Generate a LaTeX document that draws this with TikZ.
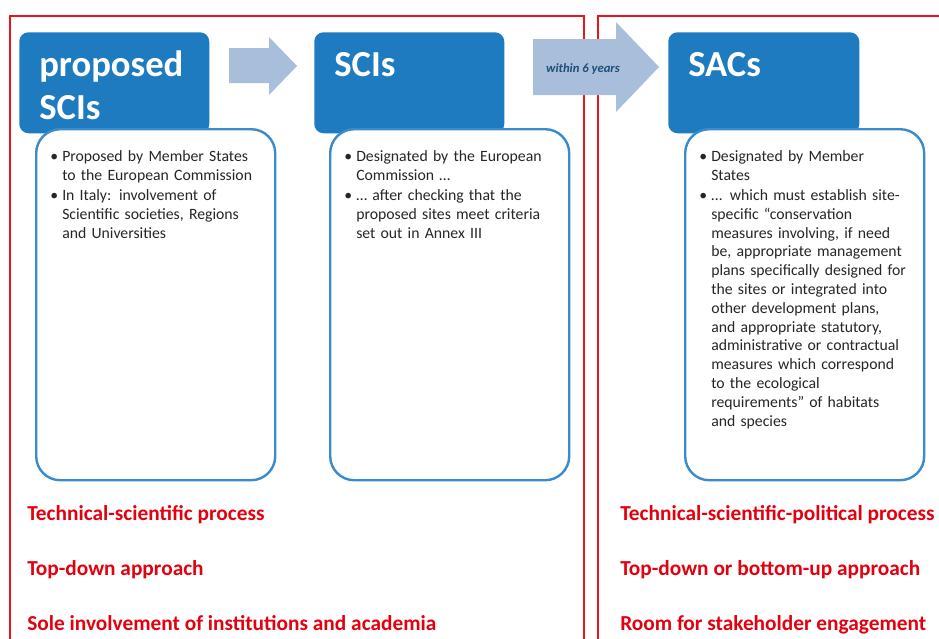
\documentclass[tikz,border=0pt]{standalone}
\usepackage{fontspec}
\setmainfont{Carlito}
\usetikzlibrary{positioning,calc}
\definecolor{headblue}{HTML}{1F7BBF}
\definecolor{boxblue}{HTML}{3A8BCB}
\definecolor{arrowfill}{HTML}{A9BEDB}
\definecolor{framered}{HTML}{E8141B}
\definecolor{redtext}{HTML}{E3000F}
\definecolor{bodytext}{HTML}{262626}
\definecolor{darkblue}{HTML}{1F4E79}
\newcommand{\bitem}[1]{\par\hangindent=9pt\hangafter=1\noindent\makebox[9pt][l]{\textbullet}#1\par}
\newcommand{\itemgap}{\vspace{0.8pt}}

\begin{document}
\begin{tikzpicture}[x=0.75pt,y=-0.75pt,
    headbox/.style={fill=headblue, rounded corners=7pt, minimum width=142.5pt, minimum height=75.75pt, anchor=north west, inner sep=0pt},
    infobox/.style={draw=boxblue, line width=1.8pt, fill=white, rounded corners=18pt, minimum width=179.25pt, minimum height=263.25pt, anchor=north west, inner sep=0pt},
    headtext/.style={text=white, font=\fontsize{27.5}{32.25}\selectfont\bfseries, text width=130pt, align=left, anchor=base west, inner sep=0pt},
    infotext/.style={text=bodytext, font=\fontsize{11.8}{14.1}\selectfont, text width=170pt, align=left, anchor=base west, inner sep=0pt},
    redlabel/.style={text=redtext, font=\fontsize{16}{18}\selectfont\bfseries, anchor=base west, inner sep=0pt},
    redframe/.style={draw=framered, line width=1.6pt}
]
    \useasboundingbox (0,0) rectangle (939,639);
    \clip (0,0) rectangle (939,639);

    % Red frames
    \draw[redframe] (10,16) rectangle (584,700);
    \draw[redframe] (598,16) rectangle (960,700);

    % Block arrows
    \fill[arrowfill] (229,48) -- (269,48) -- (269,37) -- (297,66) -- (269,95) -- (269,83) -- (229,83) -- cycle;
    \fill[arrowfill] (533,39) -- (616,39) -- (616,22) -- (659,67) -- (616,112) -- (616,95) -- (533,95) -- cycle;
    \node[font=\fontsize{9.5}{11}\selectfont\bfseries\itshape, text=darkblue, anchor=base, inner sep=0pt] (within) at (583,72) {within 6 years};

    % Header boxes
    \node[headbox] (pSCI) at (19,32) {};
    \node[headbox] (SCI) at (314,32) {};
    \node[headbox, minimum width=143.25pt] (SAC) at (668,32) {};
    \node[headtext] (pSCItitle) at ($(pSCI.north west)+(20,44)$) {proposed\\SCIs};
    \node[headtext] (SCItitle) at ($(SCI.north west)+(20,44)$) {SCIs};
    \node[headtext] (SACtitle) at ($(SAC.north west)+(20,44)$) {SACs};

    % Info boxes
    \node[infobox] (pSCIinfo) at (35,128) {};
    \node[infobox] (SCIinfo) at (329,128) {};
    \node[infobox] (SACinfo) at (684,128) {};

    \node[infotext] (pSCIlist) at ($(pSCIinfo.north west)+(15,15)$) {%
        \bitem{Proposed by Member States\newline to the European Commission}\itemgap
        \bitem{In Italy: involvement of\newline Scientific societies, Regions\newline and Universities}};
    \node[infotext] (SCIlist) at ($(SCIinfo.north west)+(15,15)$) {%
        \bitem{Designated by the European\newline Commission …}\itemgap
        \bitem{… after checking that the\newline proposed sites meet criteria\newline set out in Annex III}};
    \node[infotext] (SAClist) at ($(SACinfo.north west)+(15,15)$) {%
        \bitem{Designated by Member\newline States}\itemgap
        \bitem{…\enspace which must establish site-\newline specific “conservation\newline measures involving, if need\newline be, appropriate management\newline plans specifically designed for\newline the sites or integrated into\newline other development plans,\newline and appropriate statutory,\newline administrative or contractual\newline measures which correspond\newline to the ecological\newline requirements” of habitats\newline and species}};

    % Process labels
    \node[redlabel] (left1) at (27,520) {Technical-scientific process};
    \node[redlabel] (left2) at (27,575) {Top-down approach};
    \node[redlabel] (left3) at (27,630) {Sole involvement of institutions and academia};
    \node[redlabel] (right1) at (620,520) {Technical-scientific-political process};
    \node[redlabel] (right2) at (620,575) {Top-down or bottom-up approach};
    \node[redlabel] (right3) at (620,630) {Room for stakeholder engagement};
\end{tikzpicture}
\end{document}
